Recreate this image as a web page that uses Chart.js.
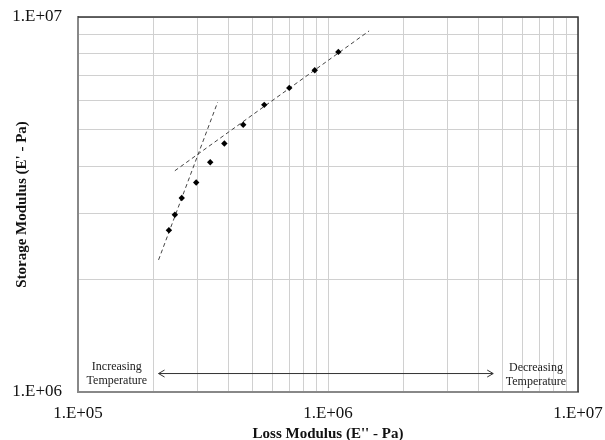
<!DOCTYPE html>
<html>
<head>
<meta charset="utf-8">
<script src="https://cdn.jsdelivr.net/npm/chart.js@4/dist/chart.umd.min.js"></script>
<style>
  html, body { margin: 0; padding: 0; background: #fff; }
  #wrap { width: 605px; height: 440px; }
</style>
</head>
<body>
<div id="wrap"><canvas id="modulusChart"></canvas></div>
<script>
// measured points (E'' vs E')
const lossModulus = [2.31e5, 2.44e5, 2.60e5, 2.97e5, 3.38e5, 3.85e5, 4.58e5, 5.56e5, 7.00e5, 8.85e5, 1.10e6];
const storageModulus = [2.70e6, 2.97e6, 3.29e6, 3.62e6, 4.10e6, 4.60e6, 5.16e6, 5.83e6, 6.47e6, 7.21e6, 8.07e6];

// the two dashed trend lines
const steepFitX = [2.10e5, 3.62e5];
const steepFitY = [2.25e6, 5.93e6];
const shallowFitX = [2.44e5, 1.46e6];
const shallowFitY = [3.89e6, 9.18e6];

// temperature arrow
const arrowX = [2.10e5, 4.58e6];
const arrowY = [1.12e6, 1.12e6];
const arrowText = [['Increasing', 'Temperature'], ['Decreasing', 'Temperature']];

const xTickLabels = { 1e5: '1.E+05', 1e6: '1.E+06', 1e7: '1.E+07' };
const yTickLabels = { 1e6: '1.E+06', 1e7: '1.E+07' };

const xTitle = "Loss Modulus (E'' - Pa)";
const yTitle = "Storage Modulus (E' - Pa)";

const toXY = (xs, ys) => xs.map((x, i) => ({ x: x, y: ys[i] }));

const serif = '"Liberation Serif", "Times New Roman", serif';

// 1,2,...,9 per decade between min and max
const logTicks = (scale) => {
  const out = [];
  for (let p = Math.log10(scale.min); p < Math.log10(scale.max); p++) {
    for (let m = 1; m < 10; m++) out.push({ value: m * Math.pow(10, p) });
  }
  out.push({ value: scale.max });
  scale.ticks = out;
};

// frame on top/right, arrow heads and the two little notes
const extras = {
  id: 'extras',
  afterDatasetsDraw(chart) {
    const ctx = chart.ctx;
    const a = chart.chartArea;
    const xs = chart.scales.x, ys = chart.scales.y;
    ctx.save();
    ctx.strokeStyle = '#333';
    ctx.lineWidth = 1.5;
    ctx.beginPath();
    ctx.moveTo(a.left, a.top);
    ctx.lineTo(a.right, a.top);
    ctx.lineTo(a.right, a.bottom);
    ctx.stroke();

    // arrow heads
    const y = ys.getPixelForValue(arrowY[0]);
    const x0 = xs.getPixelForValue(arrowX[0]);
    const x1 = xs.getPixelForValue(arrowX[1]);
    ctx.strokeStyle = '#333';
    ctx.lineWidth = 1;
    ctx.beginPath();
    ctx.moveTo(x0 + 6, y - 3.5); ctx.lineTo(x0, y); ctx.lineTo(x0 + 6, y + 3.5);
    ctx.moveTo(x1 - 6, y - 3.5); ctx.lineTo(x1, y); ctx.lineTo(x1 - 6, y + 3.5);
    ctx.stroke();

    ctx.fillStyle = '#222';
    ctx.font = '12px ' + serif;
    ctx.textAlign = 'center';
    ctx.textBaseline = 'middle';
    const left = xs.getPixelForValue(1.43e5);
    const right = xs.getPixelForValue(6.79e6);
    ctx.fillText(arrowText[0][0], left, y - 7);
    ctx.fillText(arrowText[0][1], left, y + 7);
    ctx.fillText(arrowText[1][0], right, y - 6);
    ctx.fillText(arrowText[1][1], right, y + 8);
    ctx.restore();
  }
};

new Chart(document.getElementById('modulusChart'), {
  type: 'scatter',
  data: {
    datasets: [
      {
        label: 'data',
        data: toXY(lossModulus, storageModulus),
        pointStyle: 'rectRot',
        pointRadius: 3.2,
        backgroundColor: '#000',
        borderColor: '#000',
        borderWidth: 0,
      },
      {
        label: 'fit1',
        data: toXY(steepFitX, steepFitY),
        showLine: true,
        pointRadius: 0,
        borderColor: '#444',
        borderWidth: 1,
        borderDash: [4, 3],
      },
      {
        label: 'fit2',
        data: toXY(shallowFitX, shallowFitY),
        showLine: true,
        pointRadius: 0,
        borderColor: '#444',
        borderWidth: 1,
        borderDash: [4, 3],
      },
      {
        label: 'arrow',
        data: toXY(arrowX, arrowY),
        showLine: true,
        pointRadius: 0,
        borderColor: '#333',
        borderWidth: 1,
      },
    ],
  },
  options: {
    responsive: true,
    maintainAspectRatio: false,
    animation: false,
    layout: { padding: { top: 17, right: 27, left: 0, bottom: 0 } },
    plugins: {
      legend: { display: false },
      tooltip: { enabled: false },
    },
    scales: {
      x: {
        type: 'logarithmic',
        min: 1e5,
        max: 1e7,
        afterBuildTicks: logTicks,
        afterFit: (s) => {
          s.height = 48;
          s.paddingLeft = 0;
          s.paddingRight = 0;
        },
        grid: { color: '#d0d0d0', lineWidth: 1, drawTicks: false },
        border: { color: '#888', width: 2 },
        ticks: {
          autoSkip: false,
          maxRotation: 0,
          padding: 11,
          color: '#111',
          font: { family: serif, size: 17 },
          callback: (v) => xTickLabels[v] || '',
        },
        title: {
          display: true,
          text: xTitle,
          color: '#111',
          font: { family: serif, size: 15, weight: 'bold', lineHeight: 0.8 },
          padding: { top: 0, bottom: 0 },
        },
      },
      y: {
        type: 'logarithmic',
        min: 1e6,
        max: 1e7,
        afterBuildTicks: logTicks,
        afterFit: (s) => {
          s.width = 78;
          s.paddingTop = 0;
          s.paddingBottom = 0;
        },
        grid: { color: '#d0d0d0', lineWidth: 1, drawTicks: false },
        border: { color: '#888', width: 2 },
        ticks: {
          autoSkip: false,
          padding: 16,
          color: '#111',
          font: { family: serif, size: 17 },
          callback: (v) => yTickLabels[v] || '',
        },
        title: {
          display: true,
          text: yTitle,
          color: '#111',
          font: { family: serif, size: 15, weight: 'bold', lineHeight: 1 },
          padding: { top: 15, bottom: 0 },
        },
      },
    },
  },
  plugins: [extras],
});
</script>
</body>
</html>
